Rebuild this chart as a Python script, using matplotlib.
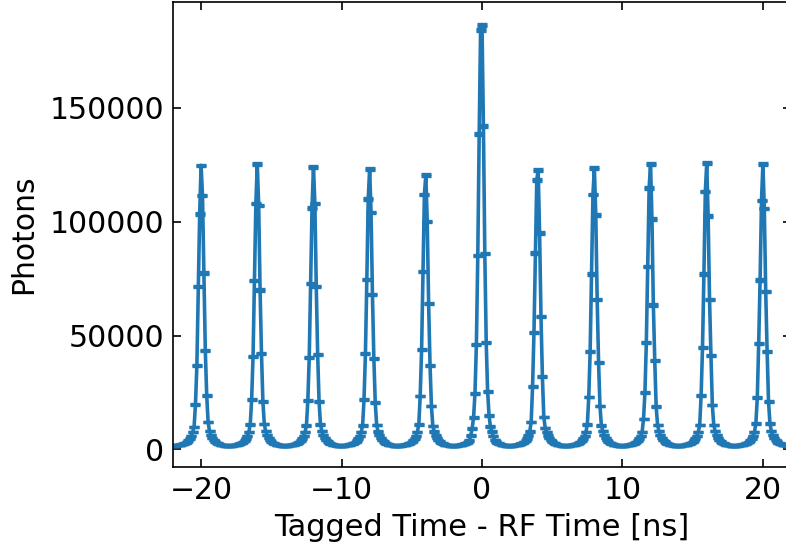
import numpy as np
import matplotlib.pyplot as plt

# Peak centres (ns) and bin width of the histogram
peak_centres = [-20, -16, -12, -8, -4, 0, 4, 8, 12, 16, 20]
bin_width = 0.1

# Counts around each peak, offsets -0.8 ... +0.8 ns
peak_cores = [
    [4800, 6000, 7600, 9800, 19800, 37000, 71400, 103400, 124700, 111400, 77400, 43500, 23800, 12000, 8000, 6300, 5000],
    [4800, 6000, 7700, 11000, 22000, 41000, 74000, 108000, 125300, 107000, 70000, 42000, 21000, 11200, 8000, 6300, 5000],
    [4800, 6000, 7600, 10500, 21500, 40500, 73000, 106000, 124000, 108000, 71500, 41500, 21000, 11000, 8000, 6300, 5000],
    [4800, 6000, 7600, 10600, 22000, 42000, 74500, 110000, 123000, 104000, 68000, 40000, 20500, 10700, 7900, 6300, 5000],
    [4800, 6000, 7700, 11000, 23500, 44000, 78000, 112000, 120500, 100000, 64000, 37000, 19000, 10200, 7900, 6200, 5000],
    [6200, 9200, 14000, 24600, 46000, 85000, 138500, 184000, 186500, 142000, 86000, 47000, 25500, 15000, 10000, 7800, 6000],
    [4800, 6100, 7800, 12000, 27500, 51400, 86200, 118300, 122700, 95000, 58300, 31900, 14300, 9500, 7700, 6200, 5000],
    [4800, 6000, 7700, 11000, 23000, 43000, 77000, 112000, 123500, 103000, 66000, 38000, 19000, 10500, 8000, 6300, 5000],
    [4800, 6000, 7700, 13400, 24900, 46900, 80200, 114800, 125200, 101200, 63400, 39000, 18800, 10800, 8000, 6300, 5000],
    [4800, 6000, 7700, 10800, 23600, 44700, 77000, 113200, 125600, 102500, 65900, 41400, 19500, 10800, 8000, 6300, 5000],
    [4800, 6000, 7700, 11500, 22700, 46600, 74400, 109200, 125200, 105700, 69300, 42900, 21000, 11500, 8000, 6300, 5000],
]

# Flat background between the peaks
tail_left = [1600, 1650, 1700, 1780, 1880, 2000, 2150, 2350, 2600, 2900, 3350, 3950]   # -2.0 ... -0.9 ns
tail_right = [4100, 3450, 2950, 2600, 2320, 2100, 1950, 1830, 1740, 1680, 1630]       # +0.9 ... +1.9 ns
last_bin = 1600                                                                       # 22.0 ns

# Build the histogram
counts = []
for core in peak_cores:
    counts += tail_left + core + tail_right
counts.append(last_bin)
counts = np.array(counts, dtype=float)
n_bins = len(counts)
times = np.round(np.arange(n_bins) * bin_width + peak_centres[0] - 2.0, 2)
errors = np.sqrt(counts)

plt.rcParams['font.family'] = 'DejaVu Sans'
plt.rcParams['font.size'] = 21.5

fig = plt.figure(figsize=(7.86, 5.48), dpi=100)
ax = fig.add_axes([173/786, 81/548, 618/786, 465/548])

ax.errorbar(times, counts, yerr=errors, fmt='-', color='tab:blue',
            lw=2.6, capsize=3.5, capthick=2.4, elinewidth=1.8)

ax.set_xlim(-22, 22)
ax.set_ylim(-7700, 196400)
ax.set_xticks([-20, -10, 0, 10, 20])
ax.set_yticks([0, 50000, 100000, 150000])

ax.set_xlabel('Tagged Time - RF Time [ns]', labelpad=6, fontsize=22)
ax.set_ylabel('Photons', labelpad=8)

ax.tick_params(direction='in', top=True, right=True, length=6, width=1.2, pad=6.5)
for s in ax.spines.values():
    s.set_linewidth(1.2)

fig.savefig('out.png', dpi=100)
